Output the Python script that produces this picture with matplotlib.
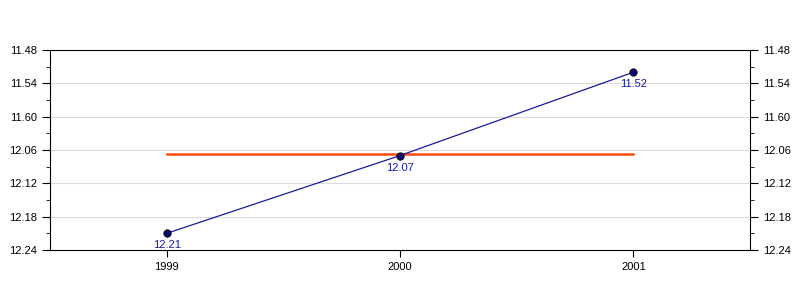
import matplotlib
matplotlib.use('Agg')
import matplotlib.pyplot as plt
import numpy as np

plt.rcParams['font.family'] = ['Liberation Sans', 'DejaVu Sans']

# data: race times as min.sec, stored in seconds
years = [1999, 2000, 2001]
time_labels = ['12.21', '12.07', '11.52']
times_sec = [12 * 60 + 21, 12 * 60 + 7, 11 * 60 + 52]
ytick_sec = [708, 714, 720, 726, 732, 738, 744]
ytick_labels = ['11.48', '11.54', '11.60', '12.06', '12.12', '12.18', '12.24']

avg = np.mean(times_sec)

fig = plt.figure(figsize=(8, 3), dpi=100)
ax = fig.add_axes([0.0625, 1/6, 0.875, 2/3])

ax.plot(years, times_sec, color='#1a1aa0', lw=0.9, zorder=3)
ax.scatter(years, times_sec, s=28, color='#0a0a70', edgecolors='black', linewidths=0.6, zorder=4)
ax.plot([years[0], years[-1]], [avg, avg], color='#ff4a0a', lw=1.8, zorder=2)

for x, y, lab in zip(years, times_sec, time_labels):
    ax.annotate(lab, (x, y), xytext=(0, -5), textcoords='offset points',
                ha='center', va='top', fontsize=8, color='#1a1aa0')

ax.set_xlim(1998.5, 2001.5)
ax.set_ylim(ytick_sec[-1], ytick_sec[0])
ax.set_xticks(years)
ax.set_xticklabels([str(y) for y in years], fontsize=8)
ax.set_yticks(ytick_sec)
ax.set_yticklabels(ytick_labels, fontsize=8)
ax.set_yticks([v + 3 for v in ytick_sec[:-1]], minor=True)
ax.tick_params(axis='y', which='both', left=True, right=True, labelleft=True, labelright=True, direction='out')
ax.tick_params(axis='y', which='major', length=6)
ax.tick_params(axis='y', which='minor', length=3)
ax.tick_params(axis='x', length=5, direction='out')
ax.grid(axis='y', which='major', color='#dcdcdc', lw=0.8)
ax.set_axisbelow(True)
for side in ['top', 'bottom', 'left', 'right']:
    ax.spines[side].set_linewidth(0.8)

fig.savefig('out.png', dpi=100)
